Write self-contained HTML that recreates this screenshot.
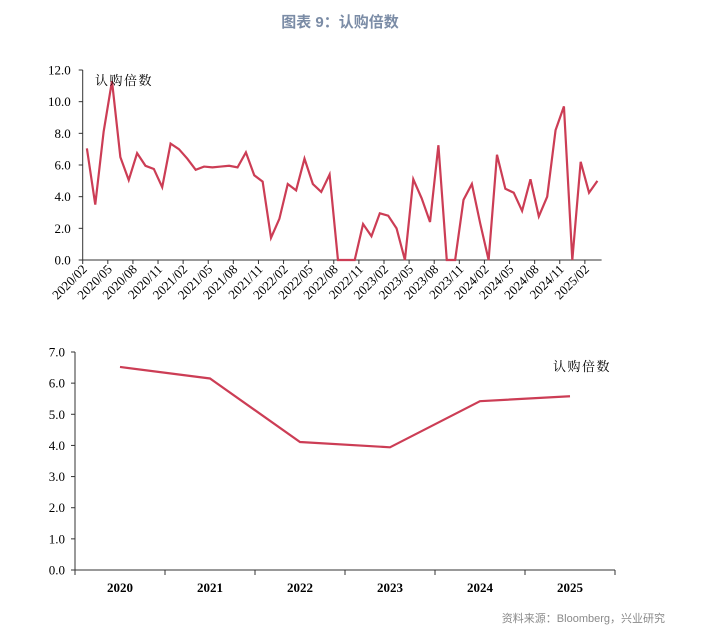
<!DOCTYPE html>
<html><head><meta charset="utf-8">
<style>
body{margin:0;background:#fff;width:707px;height:633px;overflow:hidden;}
svg{display:block;}
</style></head>
<body>
<svg id="c" width="707" height="633" xmlns="http://www.w3.org/2000/svg">
<text x="340" y="27" text-anchor="middle" font-family="'Liberation Sans','Noto Sans CJK SC',sans-serif" font-size="15" font-weight="bold" fill="#7b8ca6">图表 9：认购倍数</text>
<text x="665" y="622" text-anchor="end" font-family="'Liberation Sans','Noto Sans CJK SC',sans-serif" font-size="11" fill="#8a8a8a">资料来源：Bloomberg，兴业研究</text>
<g id="top"></g>
<g id="bot"></g>
</svg>
<script>
const monthlyValues=[7.05,3.5,8.1,11.3,6.5,5.05,6.75,5.95,5.75,4.6,7.35,
7.0,6.4,5.7,5.9,5.85,5.9,5.95,5.85,6.8,5.35,4.95,1.4,
2.6,4.8,4.4,6.4,4.8,4.3,5.4,0,0,0,2.27,1.5,
2.95,2.8,2.0,0,5.1,3.9,2.4,7.25,0,0,3.8,4.8,
2.3,0,6.65,4.5,4.25,3.1,5.1,2.75,4.0,8.2,9.7,0,
6.2,4.25,5.0];
const monthlyStartYear=2020, monthlyStartMonth=2;
const topYTicks=[0,2,4,6,8,10,12];
const annualCategories=["2020","2021","2022","2023","2024","2025"];
const annualValues=[6.52,6.15,4.11,3.94,5.42,5.58];
const botYTicks=[0,1,2,3,4,5,6,7];

const NS="http://www.w3.org/2000/svg";
function mk(p,t,a){const e=document.createElementNS(NS,t);for(const k in a)e.setAttribute(k,a[k]);p.appendChild(e);return e;}
const FONT="'Liberation Serif','Noto Serif CJK SC',serif";
const RED="#cc3d55";

(function(){
const g=document.getElementById('top');
const x0=82.7,x1=601.6,y0=260,yTop=70,yMax=12;
const n=monthlyValues.length, w=(x1-x0)/n;
const sx=i=>x0+w*(i+0.5), sy=v=>y0-(v/yMax)*(y0-yTop);
let e=mk(g,'line',{x1:x0,y1:yTop,x2:x0,y2:y0,stroke:'#333','stroke-width':1});

e=mk(g,'line',{x1:x0,y1:y0,x2:x1,y2:y0,stroke:'#333','stroke-width':1});

topYTicks.forEach(v=>{
 mk(g,'line',{x1:x0-4,y1:sy(v),x2:x0,y2:sy(v),stroke:'#333'});
 const t=mk(g,'text',{x:x0-12,y:sy(v)+4.5,'text-anchor':'end','font-family':FONT,'font-size':13,fill:'#000'});
 t.textContent=v.toFixed(1);
 
});
for(let i=0;i<n;i+=3){
 const x=x0+w*i;
 mk(g,'line',{x1:x,y1:y0,x2:x,y2:y0+4,stroke:'#333'});
 let m=monthlyStartMonth-1+i, yr=monthlyStartYear+Math.floor(m/12); m=m%12+1;
 const t=mk(g,'text',{x:x+5,y:y0+10,'text-anchor':'end','font-family':FONT,'font-size':13,fill:'#000',transform:`rotate(-45 ${x+5} ${y0+10})`});
 t.textContent=yr+'/'+String(m).padStart(2,'0');
 
}
const p=mk(g,'polyline',{points:monthlyValues.map((v,i)=>sx(i)+','+sy(v)).join(' '),fill:'none',stroke:RED,'stroke-width':2.2});

const l=mk(g,'text',{x:95,y:85,'font-family':FONT,'font-size':13,'letter-spacing':'1.5',fill:'#000'});l.textContent='认购倍数';

})();

(function(){
const g=document.getElementById('bot');
const x0=75,x1=615,y0=570,yTop=352,yMax=7;
const n=annualCategories.length,w=(x1-x0)/n;
const sx=i=>x0+w*(i+0.5), sy=v=>y0-(v/yMax)*(y0-yTop);
let e=mk(g,'line',{x1:x0,y1:yTop,x2:x0,y2:y0,stroke:'#333'});

e=mk(g,'line',{x1:x0,y1:y0,x2:x1,y2:y0,stroke:'#333'});

botYTicks.forEach(v=>{
 mk(g,'line',{x1:x0-4,y1:sy(v),x2:x0,y2:sy(v),stroke:'#333'});
 const t=mk(g,'text',{x:x0-10,y:sy(v)+4.5,'text-anchor':'end','font-family':FONT,'font-size':13,fill:'#000'});
 t.textContent=v.toFixed(1);
 
});
for(let i=0;i<=n;i++){const x=x0+w*i;mk(g,'line',{x1:x,y1:y0,x2:x,y2:y0+5,stroke:'#333'});}
annualCategories.forEach((c,i)=>{
 const t=mk(g,'text',{x:sx(i),y:y0+22,'text-anchor':'middle','font-family':FONT,'font-size':13,'font-weight':'bold',fill:'#000'});
 t.textContent=c;
 
});
const p=mk(g,'polyline',{points:annualValues.map((v,i)=>sx(i)+','+sy(v)).join(' '),fill:'none',stroke:RED,'stroke-width':2.2});

const l=mk(g,'text',{x:553,y:371,'font-family':FONT,'font-size':13,'letter-spacing':'1.5',fill:'#000'});l.textContent='认购倍数';

})();
</script>
</body></html>
